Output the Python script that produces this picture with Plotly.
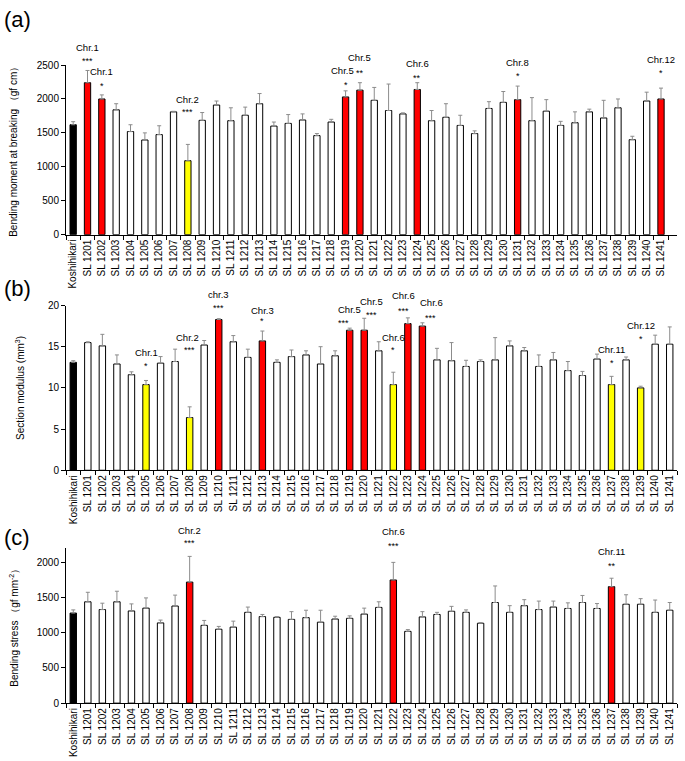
import plotly.graph_objects as go

W, H = 685, 761

categories = ["Koshihikari",
              "SL 1201", "SL 1202", "SL 1203", "SL 1204", "SL 1205", "SL 1206", "SL 1207", "SL 1208",
              "SL 1209", "SL 1210", "SL 1211", "SL 1212", "SL 1213", "SL 1214", "SL 1215", "SL 1216",
              "SL 1217", "SL 1218", "SL 1219", "SL 1220", "SL 1221", "SL 1222", "SL 1223", "SL 1224",
              "SL 1225", "SL 1226", "SL 1227", "SL 1228", "SL 1229", "SL 1230", "SL 1231", "SL 1232",
              "SL 1233", "SL 1234", "SL 1235", "SL 1236", "SL 1237", "SL 1238", "SL 1239", "SL 1240",
              "SL 1241"]

# (a) Bending moment at breaking (gf cm)
moment = [1620, 2240, 2000, 1840, 1520, 1395, 1475, 1810, 1090, 1685, 1910, 1680,
          1760, 1930, 1600, 1640, 1690, 1460, 1660, 2030, 2130, 1980,
          1830, 1780, 2140, 1680, 1730, 1610, 1490, 1860, 1950, 1990,
          1680, 1820, 1610, 1650, 1810, 1720, 1870, 1400, 1970, 2000]
moment_err = [45, 180, 60, 90, 100, 105, 130, 8, 240, 115, 60, 190,
              120, 150, 60, 130, 90, 30, 40, 90, 110, 190,
              390, 15, 100, 150, 200, 150, 40, 100, 160, 200,
              340, 170, 60, 160, 40, 260, 130, 50, 130, 160]

# (b) Section modulus (mm3)
modulus = [13.1, 15.5, 15.1, 12.9, 11.6, 10.4, 13.0, 13.2, 6.4, 15.2, 18.3, 15.6,
           13.7, 15.7, 13.1, 13.8, 14.0, 12.9, 13.9, 17.0, 17.0, 14.5,
           10.4, 17.8, 17.5, 13.4, 13.3, 12.6, 13.2, 13.4, 15.1, 14.5,
           12.6, 13.4, 12.1, 11.5, 13.5, 10.4, 13.4, 10.0, 15.3, 15.3]
modulus_err = [0.2, 0.1, 1.4, 1.1, 0.35, 0.5, 0.8, 1.5, 1.3, 0.55, 0.1, 0.75,
               1.0, 1.2, 0.3, 0.8, 0.5, 2.1, 0.6, 0.25, 1.45, 1.1,
               1.5, 0.7, 0.4, 1.4, 2.2, 0.75, 0.2, 2.7, 0.6, 0.4,
               1.4, 0.9, 1.1, 0.5, 0.6, 1.0, 0.35, 0.2, 1.1, 2.1]

# (c) Bending stress (gf mm-2)
stress = [1280, 1440, 1330, 1440, 1310, 1350, 1140, 1380, 1720, 1105, 1050, 1080,
          1290, 1230, 1220, 1190, 1215, 1150, 1195, 1205, 1265, 1360,
          1750, 1020, 1225, 1260, 1305, 1290, 1135, 1430, 1290, 1385,
          1330, 1365, 1345, 1430, 1345, 1655, 1405, 1405, 1290, 1320]
stress_err = [45, 135, 90, 150, 100, 145, 40, 155, 365, 70, 40, 85,
              75, 30, 10, 110, 105, 170, 40, 35, 85, 80,
              250, 25, 75, 30, 70, 35, 10, 235, 95, 85,
              120, 85, 80, 100, 70, 120, 135, 80, 175, 110]

control = "Koshihikari"
red_a = ["SL 1201", "SL 1202", "SL 1219", "SL 1220", "SL 1224", "SL 1231", "SL 1241"]
yellow_a = ["SL 1208"]
red_b = ["SL 1210", "SL 1213", "SL 1219", "SL 1220", "SL 1223", "SL 1224"]
yellow_b = ["SL 1205", "SL 1208", "SL 1222", "SL 1237", "SL 1239"]
red_c = ["SL 1208", "SL 1222", "SL 1237"]
yellow_c = []

# significance labels: (line, chromosome, stars)
sig_a = [("SL 1201", "Chr.1", "***"), ("SL 1202", "Chr.1", "*"), ("SL 1208", "Chr.2", "***"),
         ("SL 1219", "Chr.5", "*"), ("SL 1220", "Chr.5", "**"), ("SL 1224", "Chr.6", "**"),
         ("SL 1231", "Chr.8", "*"), ("SL 1241", "Chr.12", "*")]
sig_b = [("SL 1205", "Chr.1", "*"), ("SL 1208", "Chr.2", "***"), ("SL 1210", "chr.3", "***"),
         ("SL 1213", "Chr.3", "*"), ("SL 1219", "Chr.5", "***"), ("SL 1220", "Chr.5", "***"),
         ("SL 1222", "Chr.6", "*"), ("SL 1223", "Chr.6", "***"), ("SL 1224", "Chr.6", "***"),
         ("SL 1237", "Chr.11", "*"), ("SL 1239", "Chr.12", "*")]
sig_c = [("SL 1208", "Chr.2", "***"), ("SL 1222", "Chr.6", "***"), ("SL 1237", "Chr.11", "**")]

# label placement (px above error bar top: stars, chr label, x shift stars, x shift chr)
place_a = {"SL 1201": (9, 23, 0, 0), "SL 1202": (9, 23, 0, 0), "SL 1208": (32, 45, 0, 0),
           "SL 1219": (6, 20, 0, -3), "SL 1220": (10, 25, 0, 0), "SL 1224": (5, 19, 0, 0),
           "SL 1231": (10, 24, 0, 0), "SL 1241": (15, 29, 0, 0)}
place_b = {"SL 1205": (14, 28, 0, 0), "SL 1208": (57, 69, 0, -2), "SL 1210": (11, 24, 0, 0),
           "SL 1213": (10, 21, 0, 0), "SL 1219": (5, 19, -6, 0), "SL 1220": (3, 17, 7, 7),
           "SL 1222": (22, 35, 0, 0), "SL 1223": (7, 22, -4, -4), "SL 1224": (5, 20, 8, 9),
           "SL 1237": (13, 27, 0, 0), "SL 1239": (47, 61, 0, 0)}
place_c = {"SL 1208": (13, 26, 0, 0), "SL 1222": (16, 31, 0, 0), "SL 1237": (12, 27, 0, 0)}

FONT = "Liberation Sans, Arial, sans-serif"
XDOM = [66 / W, 677 / W]


def ydom(top_px, bottom_px):
    return [1 - bottom_px / H, 1 - top_px / H]


def colors_for(red, yellow):
    out = []
    for c in categories:
        if c == control:
            out.append("#000000")
        elif c in red:
            out.append("#FF0000")
        elif c in yellow:
            out.append("#FFFF00")
        else:
            out.append("#FFFFFF")
    return out


fig = go.Figure()
panels = [
    (moment, moment_err, red_a, yellow_a, sig_a, place_a, "", [0, 2500], ydom(60, 232.3),
     "Bending moment at breaking （gf cm）", 14, "(a)", 14),
    (modulus, modulus_err, red_b, yellow_b, sig_b, place_b, "2", [0, 20], ydom(304.3, 471.7),
     "Section modulus (mm<sup>3</sup>)", 20, "(b)", 287),
    (stress, stress_err, red_c, yellow_c, sig_c, place_c, "3", [0, 2200], ydom(551, 708.3),
     "Bending stress （gf mm<sup>-2</sup>）", 14, "(c)", 540),
]

annotations = []
for (vals, errs, red, yellow, sig, place, ax, yr, dom, ytitle, tx, plabel, py) in panels:
    fig.add_trace(go.Bar(
        x=categories, y=vals, width=0.44,
        marker=dict(color=colors_for(red, yellow), line=dict(color="#000000", width=1)),
        error_y=dict(type="data", array=errs, arrayminus=[0] * len(errs), symmetric=False,
                     color="#8c8c8c", thickness=1, width=2),
        xaxis="x" + ax, yaxis="y" + ax, showlegend=False,
    ))
    xkey = "xaxis" + ax
    ykey = "yaxis" + ax
    fig.update_layout(**{
        xkey: dict(domain=XDOM, anchor="y" + ax, type="category", tickangle=-90,
                   showline=True, linecolor="#000000", linewidth=1, ticks="outside",
                   tickson="boundaries", ticklen=4, tickcolor="#000000", showgrid=False,
                   tickfont=dict(family=FONT, size=10, color="#000000"), fixedrange=True),
        ykey: dict(domain=dom, anchor="x" + ax, range=yr, dtick=(500 if yr[1] > 100 else 5),
                   showline=True, linecolor="#000000", linewidth=1, ticks="outside",
                   ticklen=4, tickcolor="#000000", showgrid=False, zeroline=False,
                   tickfont=dict(family=FONT, size=10, color="#000000")),
    })
    xr = "x" + ax
    yrf = "y" + ax
    for cat, chrom, stars in sig:
        i = categories.index(cat)
        top = vals[i] + errs[i]
        s_shift, c_shift, sx, cx = place[cat]
        annotations.append(dict(x=cat, y=top, xref=xr, yref=yrf, text=stars, showarrow=False,
                                yanchor="middle", yshift=s_shift, xshift=sx,
                                font=dict(family=FONT, size=9, color="#000000")))
        annotations.append(dict(x=cat, y=top, xref=xr, yref=yrf, text=chrom, showarrow=False,
                                yanchor="middle", yshift=c_shift, xshift=cx,
                                font=dict(family=FONT, size=9.5, color="#000000")))
    annotations.append(dict(x=tx / W, y=(dom[0] + dom[1]) / 2, xref="paper", yref="paper",
                            text=ytitle, textangle=-90, showarrow=False,
                            xanchor="center", yanchor="middle",
                            font=dict(family=FONT, size=10, color="#000000")))
    annotations.append(dict(x=2 / W, y=1 - py / H, xref="paper", yref="paper", text=plabel,
                            showarrow=False, xanchor="left", yanchor="middle",
                            font=dict(family=FONT, size=22, color="#000000")))

fig.update_layout(width=W, height=H, margin=dict(l=0, r=0, t=0, b=0),
                  paper_bgcolor="#FFFFFF", plot_bgcolor="#FFFFFF",
                  bargap=0.5, annotations=annotations, font=dict(family=FONT))

fig.write_html("out.html", config={"displayModeBar": False},
               post_script="document.body.style.margin='0';document.body.style.overflow='hidden';")
